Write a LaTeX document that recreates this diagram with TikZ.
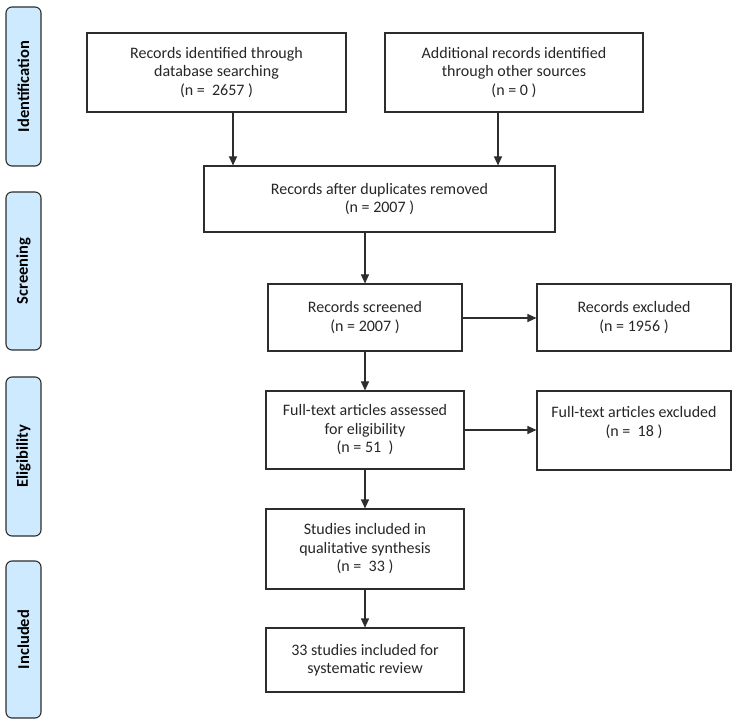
\documentclass[tikz,border=0pt]{standalone}
\usepackage{fontspec}
\setmainfont{Carlito}
\usetikzlibrary{arrows.meta}
\definecolor{phasefill}{RGB}{206,234,255}
\definecolor{linegray}{RGB}{45,45,45}

\begin{document}
\begin{tikzpicture}[x=1pt, y=-1pt,
	box/.style={draw=linegray, line width=1.1pt, align=center, inner sep=2pt,
		font=\fontsize{16}{18.5}\selectfont, text=black!85},
	phase/.style={draw=linegray, line width=1.1pt, fill=phasefill, rounded corners=6pt,
		rotate=90, minimum height=35pt, inner sep=0pt,
		font=\fontsize{16.5}{19}\selectfont\bfseries},
	arr/.style={draw=linegray, line width=1.1pt, -{Triangle[length=9pt,width=8pt]}}]
			%%%%% START %%%%%
			\useasboundingbox (0, 0) rectangle (740, 722);
			
			% phases
			\node[phase, minimum width=159pt] (ident) at (23.5, 86.5) {Identification};
			\node[phase, minimum width=158pt] (screen) at (23.5, 271) {Screening};
			\node[phase, minimum width=159pt] (elig) at (23.5, 456.5) {Eligibility};
			\node[phase, minimum width=157pt] (incl) at (23.5, 639.5) {Included};
			
			% boxes
			\node[box, minimum width=259pt, minimum height=79pt] (dbsearch) at (216.5, 72.5)
				{Records identified through\\database searching\\(n =\ \ 2657 )};
			\node[box, minimum width=258pt, minimum height=79pt] (other) at (514, 72.5)
				{Additional records identified\\through other sources\\(n = 0 )};
			\node[box, minimum width=351pt, minimum height=66pt] (dupl) at (379.5, 199)
				{Records after duplicates removed\\(n = 2007 )};
			\node[box, minimum width=194pt, minimum height=67pt] (screened) at (365, 317.5)
				{Records screened\\(n = 2007 )};
			\node[box, minimum width=194pt, minimum height=67pt] (excl) at (634, 317.5)
				{Records excluded\\(n = 1956 )};
			\node[box, minimum width=198pt, minimum height=78pt] (fulltext) at (365, 430)
				{Full-text articles assessed\\for eligibility\\(n = 51\ \ )};
			\node[box, minimum width=194pt, minimum height=79pt] (ftexcl) at (634, 430.5)
				{Full-text articles excluded\\(n =\ \ 18 )\\ \mbox{}};
			\node[box, minimum width=198pt, minimum height=80pt] (qual) at (365, 549)
				{Studies included in\\qualitative synthesis\\(n =\ \ 33 )};
			\node[box, minimum width=198pt, minimum height=64pt] (sysrev) at (365, 660)
				{33 studies included for\\systematic review};
			
			% arrows
			\draw[arr] ([xshift=16.5pt]dbsearch.south) -- ([xshift=16.5pt]dbsearch.south |- dupl.north);
			\draw[arr] ([xshift=-16pt]other.south) -- ([xshift=-16pt]other.south |- dupl.north);
			\draw[arr] (dupl.south -| screened) -- (screened.north);
			\draw[arr] ([yshift=-0.5pt]screened.east) -- ([yshift=-0.5pt]screened.east -| excl.west);
			\draw[arr] (screened.south) -- (fulltext.north);
			\draw[arr] (fulltext.east) -- (fulltext.east -| ftexcl.west);
			\draw[arr] (fulltext.south) -- (qual.north);
			\draw[arr] (qual.south) -- (sysrev.north);
			
			%%%%% END %%%%%
\end{tikzpicture}
\end{document}
